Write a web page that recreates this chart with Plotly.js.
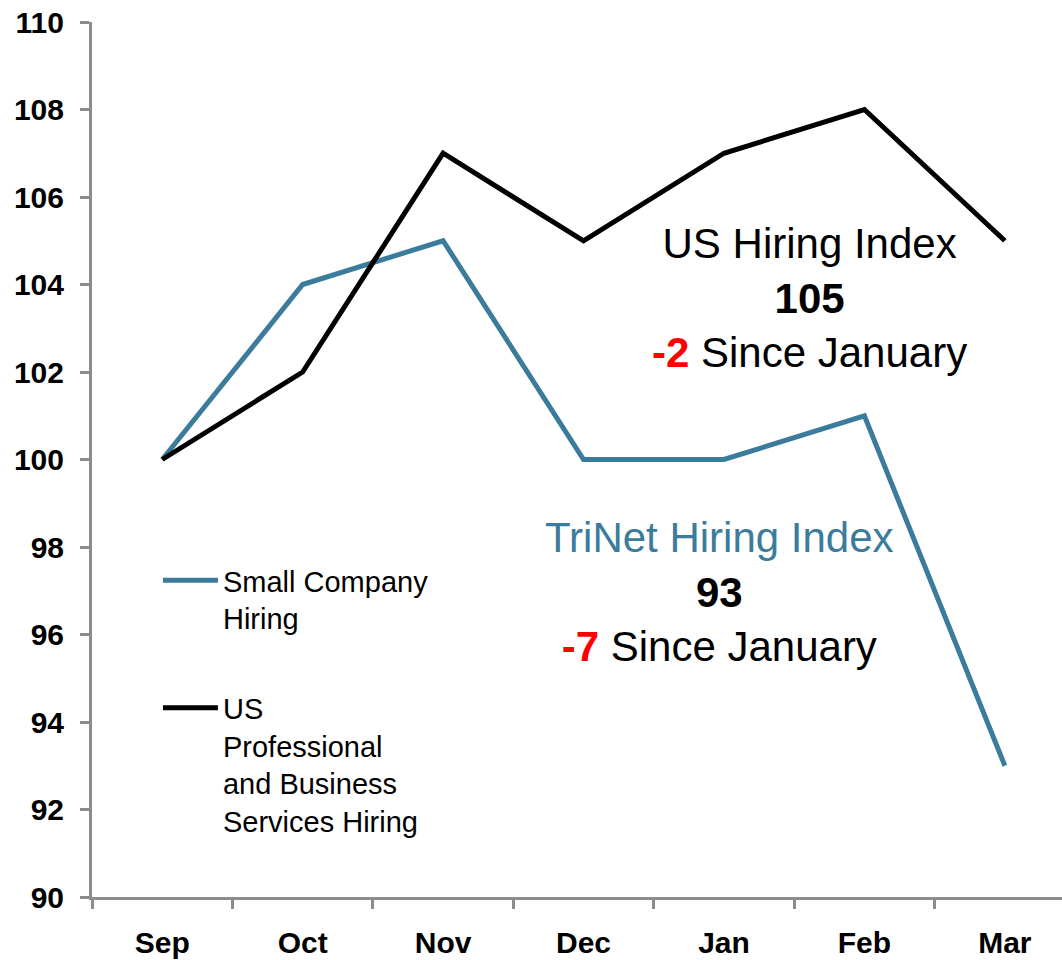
<!DOCTYPE html>
<html>
<head>
<meta charset="utf-8">
<script src="https://cdn.plot.ly/plotly-3.0.1.min.js"></script>
<style>html,body{margin:0;padding:0;overflow:hidden;background:#fff;}</style>
</head>
<body>
<div id="chart" style="width:1062px;height:960px;"></div>
<script>
const months = ["Sep", "Oct", "Nov", "Dec", "Jan", "Feb", "Mar"];
const smallCompany = [100, 104, 105, 100, 100, 101, 93];
const usProfessional = [100, 102, 107, 105, 107, 108, 105];
const yTicks = [90, 92, 94, 96, 98, 100, 102, 104, 106, 108, 110];

const blue = "#3b7b9b";
const axisGray = "#8c8c8c";
const font = "Liberation Sans, Arial, sans-serif";

const traces = [
  {
    x: months, y: smallCompany, type: "scatter", mode: "lines",
    name: "Small Company<br>Hiring", legendgroup: "a",
    line: {color: blue, width: 5}
  },
  {
    x: months, y: usProfessional, type: "scatter", mode: "lines",
    name: "US<br>Professional<br>and Business<br>Services Hiring", legendgroup: "b",
    line: {color: "#000000", width: 5}
  }
];

const layout = {
  width: 1062, height: 960,
  margin: {l: 92, r: 0, t: 22, b: 63},
  paper_bgcolor: "#ffffff", plot_bgcolor: "#ffffff",
  font: {family: font, color: "#000"},
  showlegend: true,
  legend: {
    x: 0.068, y: 0.391, xanchor: "left", yanchor: "top",
    bgcolor: "rgba(0,0,0,0)", borderwidth: 0,
    font: {family: font, size: 29, color: "#000"},
    valign: "top", tracegroupgap: 49, itemwidth: 55
  },
  xaxis: {
    type: "category", range: [-0.5, 6.407],
    showline: true, linecolor: axisGray, linewidth: 3,
    ticks: "outside", ticklen: 9, tickwidth: 3, tickcolor: axisGray,
    tickson: "boundaries", showgrid: false, zeroline: false,
    tickfont: {family: font, size: 30, color: "#000", weight: "bold"},
    ticklabelstandoff: 17
  },
  yaxis: {
    range: [90, 110], tickvals: yTicks, ticktext: yTicks.map(String),
    showline: true, linecolor: axisGray, linewidth: 3,
    ticks: "outside", ticklen: 9, tickwidth: 3, tickcolor: axisGray,
    showgrid: false, zeroline: false,
    tickfont: {family: font, size: 30, color: "#000", weight: "bold"},
    ticklabelstandoff: 10
  },
  annotations: [
    {
      xref: "paper", yref: "paper", x: 0.740, y: 0.6846,
      xanchor: "center", yanchor: "middle", align: "center", showarrow: false,
      font: {family: font, size: 42, color: "#000"},
      text: "US Hiring Index<br><b>105</b><br><b><span style='color:#ff0000'>-2</span></b> Since January"
    },
    {
      xref: "paper", yref: "paper", x: 0.647, y: 0.3486,
      xanchor: "center", yanchor: "middle", align: "center", showarrow: false,
      font: {family: font, size: 42, color: "#000"},
      text: "<span style='color:" + blue + "'>TriNet Hiring Index</span><br><b>93</b><br><b><span style='color:#ff0000'>-7</span></b> Since January"
    }
  ]
};

Plotly.newPlot("chart", traces, layout, {displayModeBar: false, staticPlot: true});
</script>
</body>
</html>
